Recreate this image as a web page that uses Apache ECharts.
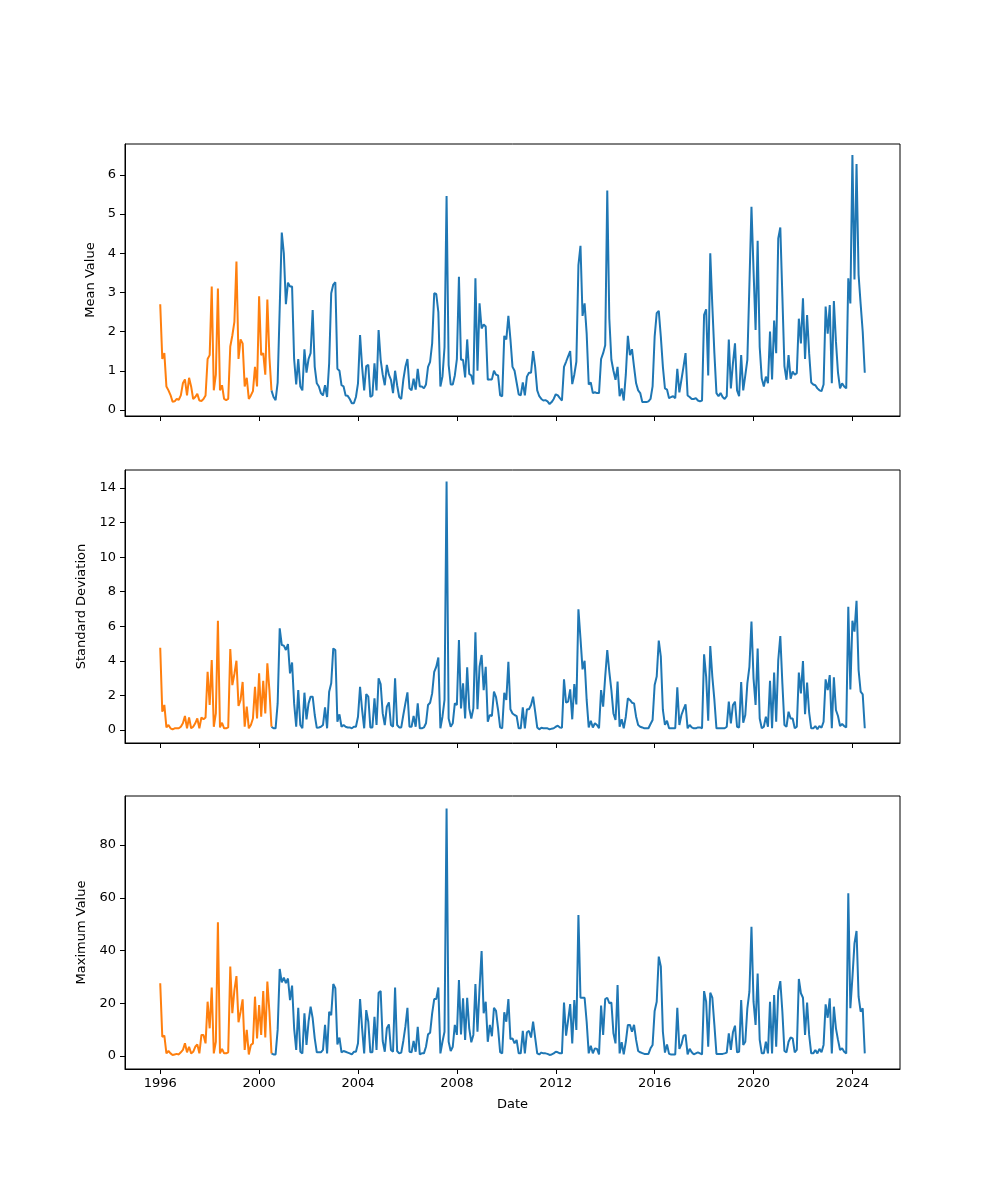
<!DOCTYPE html>
<html>
<head>
<meta charset="utf-8">
<script src="https://cdn.jsdelivr.net/npm/echarts@6/dist/echarts.min.js"></script>
<style>html,body{margin:0;padding:0;background:#fff}#c{width:1000px;height:1200px}</style>
</head>
<body>
<div id="c"></div>
<script>
// ---- data ----
const START_YEAR = 1996;           // first monthly observation: Jan 1996
const SPLIT_INDEX = 54;            // last index of the first (orange) segment
const xTicks = [1996, 2000, 2004, 2008, 2012, 2016, 2020, 2024];
const meanTicks = [0, 1, 2, 3, 4, 5, 6];
const stdTicks = [0, 2, 4, 6, 8, 10, 12, 14];
const maxTicks = [0, 20, 40, 60, 80];

const meanValues = [
  2.7,1.3,1.45,0.6,0.5,0.38,0.21,0.22,0.28,0.26,0.37,0.68,
  0.78,0.37,0.82,0.6,0.28,0.33,0.41,0.24,0.23,0.28,0.37,1.3,
  1.4,3.15,0.5,0.9,3.1,0.5,0.63,0.28,0.25,0.28,1.62,1.9,
  2.25,3.79,1.3,1.8,1.7,0.6,0.82,0.28,0.37,0.48,1.1,0.6,
  2.9,1.4,1.45,0.9,2.82,1.35,0.5,0.33,0.25,0.7,2.6,4.53,
  4.0,2.7,3.25,3.15,3.15,1.3,0.65,1.3,0.6,0.5,1.55,0.95,
  1.3,1.45,2.55,1.1,0.68,0.6,0.43,0.37,0.63,0.33,1.19,2.98,
  3.2,3.26,1.05,1.0,0.63,0.6,0.37,0.36,0.28,0.17,0.17,0.33,
  0.68,1.91,1.1,0.5,1.12,1.15,0.33,0.37,1.19,0.5,2.04,1.28,
  0.9,0.63,1.15,0.9,0.77,0.43,1.0,0.63,0.33,0.28,0.77,1.1,
  1.3,0.55,0.5,0.8,0.52,1.05,0.6,0.6,0.55,0.65,1.1,1.23,
  1.7,2.98,2.96,2.5,0.6,0.85,1.6,5.46,1.15,0.65,0.65,0.88,
  1.3,3.4,1.28,1.28,0.83,1.8,0.92,0.88,0.65,3.36,1.0,2.72,
  2.08,2.18,2.13,0.77,0.78,0.78,1.0,0.9,0.88,0.37,0.35,1.89,
  1.8,2.4,1.8,1.1,1.0,0.7,0.4,0.37,0.7,0.37,0.85,0.95,
  0.95,1.5,1.1,0.5,0.35,0.28,0.24,0.25,0.22,0.15,0.2,0.28,
  0.4,0.37,0.3,0.24,1.1,1.23,1.37,1.5,0.66,0.9,1.23,3.7,
  4.19,2.4,2.72,1.95,0.65,0.7,0.43,0.45,0.43,0.43,1.3,1.45,
  1.65,5.6,2.33,1.28,1.0,0.77,1.1,0.35,0.55,0.24,0.9,1.89,
  1.4,1.55,1.1,0.68,0.5,0.43,0.2,0.2,0.2,0.22,0.28,0.6,
  1.87,2.47,2.53,1.87,1.1,0.55,0.52,0.3,0.33,0.35,0.3,1.05,
  0.45,0.77,1.1,1.45,0.37,0.33,0.28,0.28,0.3,0.24,0.22,0.24,
  2.43,2.57,0.88,4.0,2.66,1.45,0.43,0.35,0.43,0.33,0.28,0.35,
  1.8,0.55,1.19,1.7,0.5,0.35,1.4,0.5,0.88,1.28,3.2,5.19,
  3.57,2.04,4.32,1.6,0.8,0.6,0.85,0.68,2.0,0.78,2.28,1.45,
  4.38,4.66,2.9,1.12,0.77,1.4,0.8,0.98,0.9,0.94,2.33,1.7,
  2.85,1.3,2.42,1.45,0.7,0.65,0.63,0.55,0.5,0.48,0.65,2.64,
  1.95,2.68,0.68,2.78,1.75,0.95,0.55,0.68,0.6,0.55,3.36,2.72,
  6.51,3.33,6.28,3.45,2.7,2.0,0.95
];

const stdValues = [
  4.76,1.06,1.45,0.15,0.29,0.1,0.04,0.1,0.1,0.1,0.19,0.39,
  0.81,0.1,0.73,0.1,0.19,0.39,0.67,0.1,0.73,0.62,0.73,3.37,
  1.45,4.05,0.19,0.96,6.32,0.15,0.42,0.1,0.1,0.15,4.69,2.6,
  3.24,4.01,1.39,1.74,2.78,0.19,1.35,0.1,0.29,0.67,2.5,0.67,
  3.28,0.77,2.85,0.96,3.86,2.31,0.19,0.1,0.1,1.54,5.88,4.92,
  4.88,4.63,4.97,3.28,3.91,1.54,0.19,2.31,0.29,0.1,2.16,0.62,
  1.54,1.93,1.93,0.87,0.13,0.15,0.19,0.29,1.31,0.1,2.22,2.7,
  4.72,4.63,0.48,0.91,0.19,0.29,0.19,0.15,0.15,0.1,0.19,0.19,
  0.77,2.5,1.16,0.1,2.08,1.93,0.15,0.15,1.83,0.29,2.99,2.66,
  0.96,0.29,1.35,1.6,0.29,0.19,2.99,0.29,0.15,0.15,0.87,1.54,
  2.18,0.19,0.19,0.81,0.19,1.54,0.1,0.1,0.15,0.39,1.45,1.58,
  2.12,3.37,3.66,4.2,0.1,0.77,1.74,14.37,0.67,0.19,0.39,1.54,
  1.45,5.21,1.25,2.7,0.67,3.63,1.25,0.67,1.25,5.65,1.2,3.66,
  4.34,2.31,3.66,0.48,0.87,0.81,2.22,1.9,1.16,0.15,0.1,2.16,
  1.74,3.95,1.2,0.96,0.87,0.81,0.1,0.1,1.31,0.1,1.2,1.2,
  1.45,1.93,1.06,0.15,0.04,0.13,0.1,0.1,0.1,0.04,0.08,0.1,
  0.19,0.25,0.15,0.13,2.93,1.58,1.64,2.35,0.62,2.66,1.48,6.98,
  5.3,3.51,4.01,1.74,0.15,0.54,0.15,0.39,0.29,0.1,2.31,1.35,
  3.09,4.63,3.37,2.31,0.96,0.58,2.8,0.19,0.62,0.1,0.77,1.83,
  1.74,1.58,1.54,0.77,0.29,0.19,0.15,0.1,0.1,0.1,0.35,0.58,
  2.6,3.09,5.17,4.24,1.16,0.3,0.54,0.1,0.1,0.1,0.1,2.47,
  0.29,0.87,1.2,1.48,0.1,0.29,0.15,0.1,0.1,0.15,0.15,0.1,
  4.38,3.09,0.54,4.86,3.09,1.74,0.1,0.1,0.1,0.1,0.1,0.19,
  1.64,0.39,1.45,1.64,0.19,0.15,2.78,0.42,0.87,2.7,3.66,6.27,
  2.99,1.45,4.72,0.67,0.1,0.19,0.77,0.19,2.85,0.1,3.32,0.48,
  4.05,5.44,2.7,0.29,0.19,1.06,0.67,0.67,0.1,0.19,3.32,2.12,
  3.99,0.91,2.74,1.0,0.1,0.1,0.23,0.04,0.23,0.13,0.48,2.93,
  2.31,3.18,0.1,3.05,1.16,0.81,0.23,0.35,0.23,0.15,7.13,2.35,
  6.32,5.69,7.48,3.47,2.22,2.06,0.1
];

const maxValues = [
  27.6,7.3,7.7,1.0,1.9,1.0,0.4,0.6,0.8,0.6,1.4,2.3,
  4.8,1.4,3.5,1.0,1.6,3.5,4.4,1.0,8.0,8.0,4.8,20.6,
  10.5,26.0,1.0,5.4,50.7,1.0,2.7,1.0,1.0,1.4,33.9,16.2,
  25.0,30.3,12.8,16.8,21.5,2.3,9.9,0.6,4.2,4.8,22.5,6.7,
  19.3,8.0,24.6,7.0,28.2,16.8,1.0,0.6,0.6,9.9,33.0,27.9,
  29.7,27.6,29.4,21.2,26.7,10.5,2.3,18.3,1.6,1.0,16.2,4.2,
  13.0,18.7,14.3,6.7,1.4,1.4,1.4,2.3,11.8,1.0,16.8,15.5,
  27.3,25.7,4.4,7.0,1.4,1.9,1.6,1.3,1.0,0.6,1.6,1.6,
  4.8,21.6,10.5,1.0,17.4,13.0,1.4,1.4,14.9,2.3,24.0,24.6,
  5.7,1.6,10.5,12.0,2.3,1.6,26.0,1.9,1.0,1.3,5.7,11.1,
  18.3,1.6,1.4,5.7,1.6,11.1,0.6,1.0,1.0,3.5,8.2,8.8,
  16.2,21.6,21.6,26.0,1.0,5.4,9.2,93.9,5.4,1.9,3.5,11.8,
  8.0,28.8,8.2,21.9,6.1,22.1,10.5,5.2,8.0,27.3,9.2,25.7,
  39.8,16.2,20.6,5.4,11.8,7.5,18.3,17.1,10.5,1.5,1.0,16.6,
  13.0,21.6,6.4,6.7,4.8,6.1,1.0,1.0,9.5,1.0,9.0,9.5,
  7.0,13.0,7.0,1.0,0.6,1.3,1.0,1.0,0.8,0.4,0.6,1.0,
  1.6,1.4,1.0,1.0,20.3,7.7,13.6,19.7,4.8,21.2,9.9,53.5,
  22.1,22.1,22.1,13.0,1.0,3.9,1.0,2.9,2.7,0.6,19.1,8.0,
  21.6,22.1,20.0,20.3,8.6,4.8,26.9,1.0,5.2,0.6,5.4,11.8,
  11.8,9.2,11.8,6.1,1.9,1.4,1.1,0.8,0.8,0.8,2.9,4.2,
  17.1,20.6,37.7,34.0,9.2,1.3,4.4,0.8,0.6,0.6,0.6,18.3,
  2.7,4.4,7.7,8.0,0.6,2.7,1.4,0.6,1.0,1.4,1.0,0.6,
  24.6,20.6,3.5,24.0,22.1,11.8,0.8,0.8,0.8,0.8,1.0,1.3,
  8.6,2.3,9.0,11.5,1.4,1.6,21.2,4.2,5.4,18.1,24.4,49.0,
  20.6,11.8,31.3,6.1,1.0,1.0,5.4,1.0,20.6,1.0,23.1,3.5,
  24.6,28.4,16.8,1.9,1.4,5.4,7.0,6.7,1.4,2.3,29.2,23.8,
  22.1,8.0,20.3,8.0,1.0,1.0,2.3,1.0,2.7,1.4,4.2,19.6,
  14.5,21.9,1.0,18.7,10.5,6.1,2.3,2.9,1.6,1.0,61.7,18.1,
  29.7,42.7,47.4,22.5,16.8,18.1,1.0
];

// monthly dates as decimal years
const dates = meanValues.map((_, i) => START_YEAR + i / 12);

// ---- chart ----
const FONT = 'DejaVu Sans';
const BLUE = '#1f77b4', ORANGE = '#ff7f0e';
const panels = [
  { name: 'Mean Value', values: meanValues, ticks: meanTicks, min: -0.155, max: 6.79, top: 144, height: 272, gap: 24 },
  { name: 'Standard Deviation', values: stdValues, ticks: stdTicks, min: -0.75, max: 15.04, top: 470, height: 273, gap: 32 },
  { name: 'Maximum Value', values: maxValues, ticks: maxTicks, min: -4.93, max: 98.6, top: 796, height: 273, gap: 32 }
];
const X_MIN = 1994.575, X_MAX = 2025.925;

const grid = [], xAxis = [], yAxis = [], series = [];
panels.forEach((p, k) => {
  grid.push({ left: 125, width: 775, top: p.top, height: p.height, show: true,
    borderColor: '#000', borderWidth: 1, backgroundColor: 'transparent', containLabel: false });
  const last = k === panels.length - 1;
  xAxis.push({
    type: 'value', gridIndex: k, min: X_MIN, max: X_MAX,
    splitLine: { show: false },
    axisLine: { show: true, onZero: false, lineStyle: { color: '#000', width: 1 } },
    axisTick: { show: true, customValues: xTicks, length: 5, lineStyle: { color: '#000', width: 1 } },
    axisLabel: { show: last, customValues: xTicks, formatter: v => String(Math.round(v)),
      color: '#000', fontSize: 13, fontFamily: FONT, margin: 8 },
    name: last ? 'Date' : '', nameLocation: 'middle', nameGap: 29,
    nameTextStyle: { color: '#000', fontSize: 13, fontFamily: FONT }
  });
  yAxis.push({
    type: 'value', gridIndex: k, min: p.min, max: p.max,
    splitLine: { show: false },
    axisLine: { show: true, onZero: false, lineStyle: { color: '#000', width: 1 } },
    axisTick: { show: true, customValues: p.ticks, length: 5, lineStyle: { color: '#000', width: 1 } },
    axisLabel: { customValues: p.ticks, color: '#000', fontSize: 13, fontFamily: FONT, margin: 9 },
    name: p.name, nameLocation: 'middle', nameGap: p.gap, nameRotate: 90,
    nameTextStyle: { color: '#000', fontSize: 13, fontFamily: FONT }
  });
  const pts = dates.map((d, i) => [d, p.values[i]]);
  series.push({
    type: 'line', xAxisIndex: k, yAxisIndex: k, data: pts.slice(SPLIT_INDEX),
    showSymbol: false, symbol: 'none', lineStyle: { color: BLUE, width: 2 }, itemStyle: { color: BLUE },
    animation: false, silent: true
  });
  series.push({
    type: 'line', xAxisIndex: k, yAxisIndex: k, data: pts.slice(0, SPLIT_INDEX + 1),
    showSymbol: false, symbol: 'none', lineStyle: { color: ORANGE, width: 2 }, itemStyle: { color: ORANGE },
    animation: false, silent: true
  });
});

const chart = echarts.init(document.getElementById('c'), null, { renderer: 'canvas' });
chart.setOption({ backgroundColor: '#fff', animation: false, grid, xAxis, yAxis, series });
</script>
</body>
</html>
